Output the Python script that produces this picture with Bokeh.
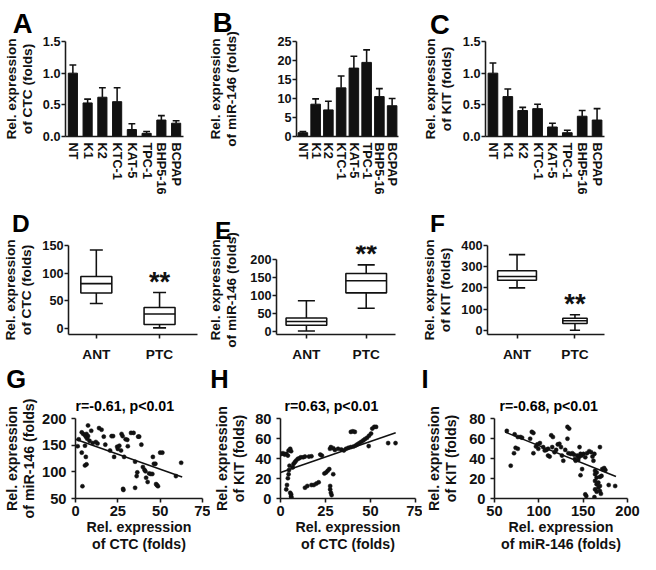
from bokeh.plotting import figure
from bokeh.layouts import column, row
from bokeh.models import (FactorRange, Range1d, FixedTicker, Whisker, TeeHead,
                          ColumnDataSource, NumeralTickFormatter, Label, Title)
from bokeh.embed import file_html
from bokeh.resources import INLINE

# ---------------- data ----------------
categories = ["NT", "K1", "K2", "KTC-1", "KAT-5", "TPC-1", "BHP5-16", "BCPAP"]
ctc_mean = [1.00, 0.53, 0.62, 0.55, 0.11, 0.05, 0.26, 0.21]
ctc_err = [0.13, 0.06, 0.15, 0.22, 0.09, 0.03, 0.07, 0.04]
mir_mean = [1.0, 8.5, 7.0, 12.8, 18.0, 19.5, 10.5, 8.1]
mir_err = [0.3, 1.4, 2.3, 3.1, 3.1, 3.3, 2.1, 1.9]
kit_mean = [1.00, 0.63, 0.41, 0.44, 0.15, 0.06, 0.32, 0.26]
kit_err = [0.16, 0.12, 0.05, 0.07, 0.06, 0.04, 0.09, 0.18]

groups = ["ANT", "PTC"]
# box stats per group: [min, q1, median, q3, max]
ctc_box = [[45, 64, 81, 94, 142], [1, 7, 26, 38, 65]]
mir_box = [[2, 18, 28, 38, 86], [65, 108, 142, 162, 186]]
kit_box = [[200, 236, 254, 281, 357], [0, 32, 45, 57, 73]]

G_x = [1.3, 1.9, 3.7, 4.6, 5.6, 6.1, 6.5, 7.4, 6.9, 5.6, 3.7, 6.1, 5.6, 6.5, 4.1, 7.4, 9.3, 8.3, 10.2, 12.0,
       13.0, 13.9, 15.4, 16.7, 17.6, 20.4, 21.3, 22.2, 22.8, 24.6, 25.0, 25.9, 26.9, 27.2, 27.8, 28.7, 28.1,
       28.3, 29.6, 30.6, 30.9, 32.8, 34.3, 35.2, 35.2, 36.1, 36.5, 37.0, 37.6, 38.9, 39.8, 40.7, 41.3, 41.7,
       42.6, 43.5, 44.4, 45.4, 45.7, 46.3, 47.2, 47.6, 48.1, 48.7, 50.0, 51.3, 59.3, 62.4]
G_y = [148, 161, 174, 171, 169, 166, 171, 167, 162, 149, 136, 128, 112, 114, 73, 187, 177, 158, 154, 156,
       153, 182, 179, 166, 151, 140, 167, 167, 128, 147, 143, 149, 140, 171, 167, 128, 68, 66, 161, 160,
       148, 173, 173, 119, 70, 92, 99, 166, 166, 151, 109, 104, 101, 89, 81, 97, 96, 96, 128, 115,
       115, 77, 75, 73, 136, 136, 92, 117]
G_fit = {"x0": 0, "x1": 63, "intercept": 161, "slope": -1.12}

H_x = [0.5, 1.4, 2.3, 3.2, 4.1, 4.5, 5.4, 5.9,
       5.0, 4.7, 4.5, 4.1, 3.6, 3.2, 5.4, 5.9, 5.9, 6.1,
       6.8, 7.2, 7.9, 8.6, 9.5, 10.4, 11.3, 12.6, 13.6, 15.8, 17.2, 22.1, 23.0,
       13.6, 14.9, 17.2, 18.5, 19.9, 21.2,
       24.4, 25.3, 26.2, 27.1, 29.3, 27.6, 27.6, 28.0, 28.4,
       27.5, 28.0, 29.3, 30.2, 32.0, 33.8, 35.2, 36.4, 37.7, 39.1, 40.6, 41.8, 42.7, 43.8, 44.9, 46.0,
       47.0, 48.1, 49.2, 50.3, 51.0, 52.1, 53.1,
       39.1, 40.2, 41.3, 49.0, 59.8, 63.9]
H_y = [44.6, 45.3, 43.9, 44.6, 42.9, 48.0, 49.7, 47.3,
       32.8, 28.4, 24.3, 20.3, 13.5, 9.1, 5.7, 4.1, 2.0, 0.7,
       31.1, 34.5, 36.1, 37.8, 39.5, 40.2, 41.2, 41.2, 41.9, 41.9, 42.2, 43.9, 42.9,
       10.8, 12.5, 13.5, 13.5, 14.9, 16.2,
       25.0, 26.0, 27.7, 29.4, 24.3, 12.5, 9.1, 5.7, 3.4,
       49.7, 51.4, 50.3, 48.6, 49.7, 49.0, 48.0, 49.7, 50.7, 51.4, 52.0, 53.0, 54.1, 55.4, 56.8, 58.1,
       59.5, 60.8, 62.8, 64.9, 69.9, 71.6, 71.6,
       66.6, 67.2, 66.6, 52.4, 55.4, 55.4]
H_fit = {"x0": 0, "x1": 64, "intercept": 26, "slope": 0.62}

I_x = [63.9, 72.7, 76.3, 79.3, 81.1, 68.3, 72.0, 73.8, 76.3, 90.2, 92.1, 93.9, 93.9, 96.8, 98.3,
       99.4, 101.2, 104.9, 106.7, 108.5, 110.4, 110.4, 112.2, 114.0, 115.9, 115.1, 117.7, 119.5, 121.4,
       123.2, 125.0, 126.1, 127.6, 129.8, 132.3, 134.2, 132.3, 133.4, 136.0, 137.8, 139.6, 143.3, 145.1,
       140.7, 144.4, 145.9, 147.0, 148.1, 148.8, 141.5, 147.0, 150.3, 152.4, 154.3, 156.8, 159.0, 160.5,
       162.7, 161.6, 152.4, 153.5, 168.9, 163.4, 165.2, 163.4, 165.2, 163.4, 165.2, 167.1, 163.4, 167.1,
       168.9, 165.2, 168.9, 170.0, 162.7, 171.5, 173.7, 175.1, 168.9, 170.7, 178.8, 186.1]
I_y = [67.6, 64.2, 61.5, 61.5, 60.8, 32.8, 45.3, 50.7, 49.7, 59.8, 66.6, 65.5, 45.3, 52.0, 54.1,
       49.7, 55.4, 51.4, 48.0, 48.6, 49.7, 42.9, 41.9, 63.2, 61.5, 51.4, 46.3, 48.6, 54.1,
       54.7, 51.4, 42.9, 37.8, 48.6, 71.6, 69.9, 59.8, 45.3, 44.6, 45.3, 43.9, 42.9, 41.2,
       39.5, 38.5, 51.4, 44.6, 42.9, 29.4, 37.8, 23.3, 44.6, 41.2, 45.3, 47.3, 46.3, 41.9,
       44.6, 37.8, 4.1, 2.4, 51.4, 27.7, 26.0, 24.3, 20.9, 17.6, 14.2, 15.9, 9.1, 10.8,
       12.5, 6.8, 7.4, 4.7, 1.4, 29.4, 30.4, 28.4, 21.6, 22.6, 13.5, 12.5]
I_fit = {"x0": 62, "x1": 187, "intercept": 88.5, "slope": -0.356}

r_texts = ["r=-0.61, p<0.01", "r=0.63, p<0.01", "r=-0.68, p<0.01"]

# ---------------- styling helpers ----------------
KX = 0.975
KY = 0.985
KF = 0.98
FONT = "Liberation Sans"
INK = "#111111"
LW = 1.6


def fs(v):
    return f"{v * KF:.1f}px"


def base_fig(W, H, frame, x_range, y_range, letter, ldx, lsize, lstandoff, bfix):
    l, t, r, b = frame
    p = figure(width=W, height=H, x_range=x_range, y_range=y_range,
               toolbar_location=None, output_backend="svg",
               min_border_left=round(l * KX), min_border_top=round(t * KY),
               min_border_right=round(W - r * KX),
               min_border_bottom=max(0, round(H - b * KY - bfix)))
    p.xgrid.visible = False
    p.ygrid.visible = False
    p.outline_line_color = None
    p.background_fill_color = "white"
    p.border_fill_color = "white"
    p.title.text = letter
    p.title.align = "left"
    p.title.offset = ldx * KX
    p.title.text_font = FONT
    p.title.text_font_style = "bold"
    p.title.text_font_size = fs(lsize)
    p.title.text_color = "black"
    p.title.standoff = round(lstandoff)
    return p


def style_axis(ax, tick_size, label_size, label_standoff, tick_standoff=2, tick_out=4):
    ax.axis_line_width = LW * KX
    ax.axis_line_color = "#1a1a1a"
    ax.major_tick_line_width = LW * KX
    ax.major_tick_line_color = "#1a1a1a"
    ax.major_tick_out = tick_out
    ax.major_tick_in = 0
    ax.minor_tick_line_color = None
    ax.major_label_text_font = FONT
    ax.major_label_text_font_style = "bold"
    ax.major_label_text_font_size = fs(tick_size)
    ax.major_label_text_color = INK
    ax.major_label_standoff = tick_standoff
    ax.axis_label_text_font = FONT
    ax.axis_label_text_font_style = "bold"
    ax.axis_label_text_font_size = fs(label_size)
    ax.axis_label_text_color = INK
    ax.axis_label_standoff = round(label_standoff * KX)
    ax.axis_label_text_line_height = 1.08


def bar_panel(W, H, frame, letter, ldx, lstand, means, errs, ymax, ystep, fmt, ylabel, bar_w, lab_standoff):
    p = base_fig(W, H, frame, FactorRange(*categories), Range1d(0, ymax), letter, ldx, 28, lstand, 18)
    src = ColumnDataSource(dict(x=categories, top=means,
                                upper=[m + e for m, e in zip(means, errs)]))
    p.vbar(x="x", top="top", width=bar_w, source=src, fill_color=INK, line_color=INK)
    w = Whisker(base="x", lower="top", upper="upper", source=src, dimension="height",
                line_color=INK, line_width=LW * KX,
                upper_head=TeeHead(size=7 * KX, line_color=INK, line_width=LW * KX),
                lower_head=None)
    p.add_layout(w)
    ticks = [i * ystep for i in range(int(round(ymax / ystep)) + 1)]
    p.yaxis.ticker = FixedTicker(ticks=ticks)
    p.yaxis.formatter = NumeralTickFormatter(format=fmt)
    p.yaxis.axis_label = ylabel
    p.xaxis.axis_label = None
    style_axis(p.yaxis[0], 13, 14, lab_standoff, 1)
    style_axis(p.xaxis[0], 13, 14, 0, 6, 0)
    p.xaxis.major_label_orientation = "vertical"
    p.xaxis.major_tick_line_color = None
    return p


def box_panel(W, H, frame, letter, ldx, lstand, stats, widths, yrange, ytop, ystep, ylabel, xr, lab_standoff):
    p = base_fig(W, H, frame, Range1d(*xr), Range1d(*yrange), letter, ldx, 25, lstand, 11)
    xs = [1, 2]
    for x, st, bw in zip(xs, stats, widths):
        lo, q1, med, q3, hi = st
        cw = bw * 0.42
        p.quad(left=[x - bw / 2], right=[x + bw / 2], bottom=[q1], top=[q3],
               fill_color="white", line_color=INK, line_width=LW * KX)
        p.segment(x0=[x - bw / 2], x1=[x + bw / 2], y0=[med], y1=[med], line_color=INK, line_width=LW * KX)
        p.segment(x0=[x, x], x1=[x, x], y0=[q3, lo], y1=[hi, q1], line_color=INK, line_width=LW * KX)
        p.segment(x0=[x - cw / 2, x - cw / 2], x1=[x + cw / 2, x + cw / 2], y0=[hi, lo], y1=[hi, lo],
                  line_color=INK, line_width=LW * KX)
    p.add_layout(Label(x=2, y=stats[1][4], text="**", text_align="center", text_baseline="alphabetic",
                       text_font=FONT, text_font_style="bold", text_font_size=fs(28), text_color=INK,
                       y_offset=11))
    ticks = [i * ystep for i in range(int(round(ytop / ystep)) + 1)]
    p.yaxis.ticker = FixedTicker(ticks=ticks)
    p.yaxis.bounds = (yrange[0], ytop)
    p.yaxis.axis_label = ylabel
    p.xaxis.axis_label = None
    p.xaxis.ticker = FixedTicker(ticks=xs)
    p.xaxis.major_label_overrides = {1: groups[0], 2: groups[1]}
    style_axis(p.yaxis[0], 13, 14, lab_standoff, 1)
    style_axis(p.xaxis[0], 14, 14, 0, 8)
    return p


def scatter_panel(W, H, frame, letter, ldx, rtext, r_dx, xs, ys, fit, xr, yr, xstep, ystep,
                  xlabel, ylabel, lab_standoff):
    p = base_fig(W, H, frame, Range1d(*xr), Range1d(*yr), letter, ldx, 26, -4, 12)
    p.add_layout(Title(text=rtext, align="left", offset=r_dx * KX, text_font=FONT,
                       text_font_style="bold", text_font_size=fs(14.5), text_color="black",
                       standoff=10), "above")
    p.scatter(x=xs, y=ys, size=4.2 * KX, fill_color=INK, line_color=INK, line_width=0.5, marker="circle")
    fx = [fit["x0"], fit["x1"]]
    p.line(x=fx, y=[fit["intercept"] + fit["slope"] * v for v in fx], line_color=INK, line_width=LW * KX)
    p.xaxis.ticker = FixedTicker(ticks=list(range(xr[0], xr[1] + 1, xstep)))
    p.yaxis.ticker = FixedTicker(ticks=list(range(yr[0], yr[1] + 1, ystep)))
    p.xaxis.axis_label = xlabel
    p.yaxis.axis_label = ylabel
    style_axis(p.yaxis[0], 15, 14.5, lab_standoff, 5)
    style_axis(p.xaxis[0], 15, 14.5, 0, 3)
    return p


# ---------------- panels ----------------
# row 1 cells start at reference y = 5, row 2 at y = 206, row 3 at y = 375
A = bar_panel(205, 198, (59, 36, 188, 130), "A", -54, 5, ctc_mean, ctc_err, 1.5, 0.5, "0.0",
              "Rel. expression\nof CTC (folds)", 0.62, 5)
B = bar_panel(214, 198, (87, 39, 198, 125), "B", -86, 7.5, mir_mean, mir_err, 25, 5, "0",
              "Rel. expression\nof miR-146 (folds)", 0.75, 36)
C = bar_panel(221, 198, (59, 34, 190, 120), "C", -57, 3, kit_mean, kit_err, 1.5, 0.5, "0.0",
              "Rel. expression\nof KIT (folds)", 0.65, 6)

D = box_panel(205, 166, (59, 46, 202, 132), "D", -58, 18.4, ctc_box, [0.49, 0.49], (-11, 150), 150, 50,
              "Rel. expression\nof CTC (folds)", (0.56, 2.6), 5)
E = box_panel(214, 166, (66, 30.5, 195, 132), "E", -63, 3.2, mir_box, [0.68, 0.68], (-8, 240), 200, 50,
              "Rel. expression\nof miR-146 (folds)", (0.5, 2.49), 8)
F = box_panel(221, 166, (60, 46, 190, 132), "F", -59, 18.4, kit_box, [0.67, 0.42], (-20, 400), 400, 100,
              "Rel. expression\nof KIT (folds)", (0.49, 2.51), 5)

G = scatter_panel(210, 190, (72, 55, 207, 134), "G", -71, r_texts[0], 0, G_x, G_y, G_fit,
                  (0, 75), (50, 200), 25, 50, "Rel. expression\nof CTC (folds)",
                  "Rel. expression\nof miR-146 (folds)", 2)
H = scatter_panel(212, 190, (72, 55, 210, 135), "H", -72, r_texts[1], 4, H_x, H_y, H_fit,
                  (0, 75), (0, 80), 25, 20, "Rel. expression\nof CTC (folds)",
                  "Rel. expression\nof KIT (folds)", 5)
I = scatter_panel(218, 190, (73, 55, 210, 133), "I", -75, r_texts[2], 5, I_x, I_y, I_fit,
                  (50, 200), (0, 80), 50, 20, "Rel. expression\nof miR-146 (folds)",
                  "Rel. expression\nof KIT (folds)", 7)

layout = column(row(A, B, C), row(D, E, F), row(G, H, I))
open("out.html", "w").write(file_html(layout, INLINE, "Figure"))
